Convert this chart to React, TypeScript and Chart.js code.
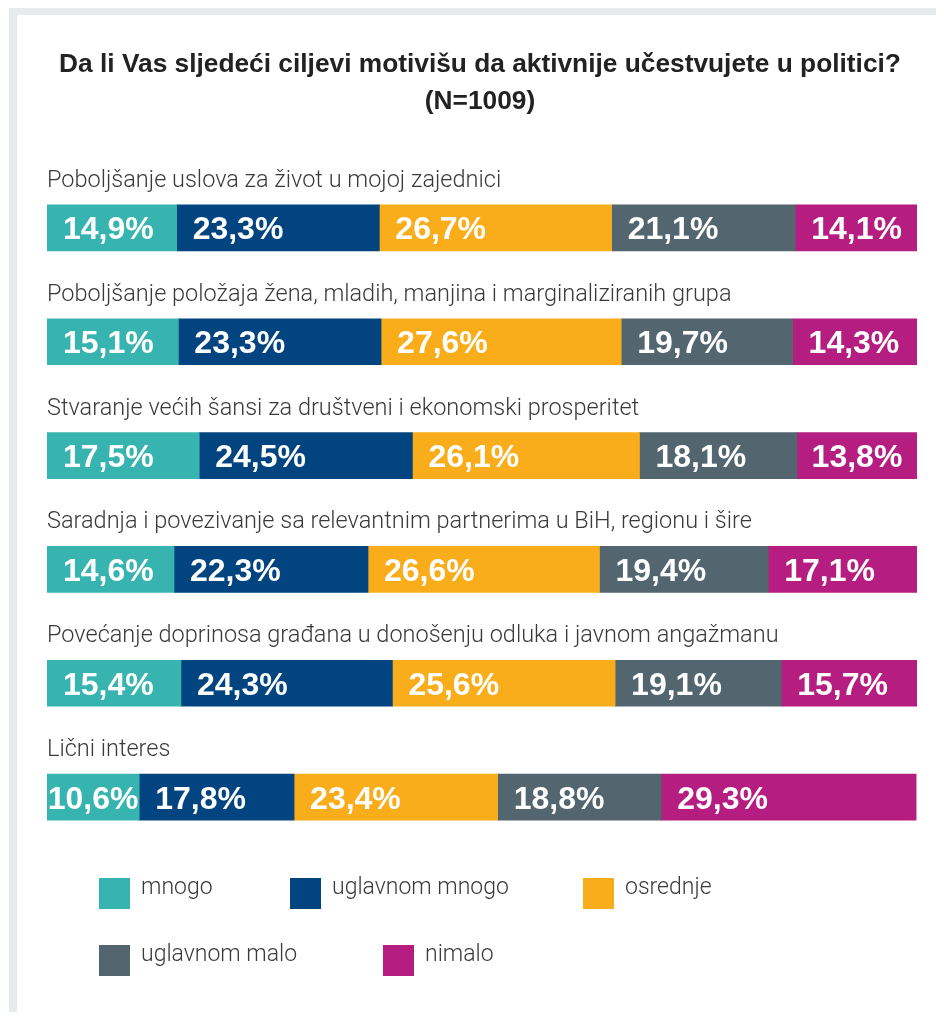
import React, { useEffect, useRef } from 'react';
import { Chart, registerables } from 'chart.js';

Chart.register(...registerables);

const categories = [
  'Poboljšanje uslova za život u mojoj zajednici',
  'Poboljšanje položaja žena, mladih, manjina i marginaliziranih grupa',
  'Stvaranje većih šansi za društveni i ekonomski prosperitet',
  'Saradnja i povezivanje sa relevantnim partnerima u BiH, regionu i šire',
  'Povećanje doprinosa građana u donošenju odluka i javnom angažmanu',
  'Lični interes',
];

const mnogo = [14.9, 15.1, 17.5, 14.6, 15.4, 10.6];
const uglavnomMnogo = [23.3, 23.3, 24.5, 22.3, 24.3, 17.8];
const osrednje = [26.7, 27.6, 26.1, 26.6, 25.6, 23.4];
const uglavnomMalo = [21.1, 19.7, 18.1, 19.4, 19.1, 18.8];
const nimalo = [14.1, 14.3, 13.8, 17.1, 15.7, 29.3];

const seriesNames = ['mnogo', 'uglavnom mnogo', 'osrednje', 'uglavnom malo', 'nimalo'];
const seriesValues = [mnogo, uglavnomMnogo, osrednje, uglavnomMalo, nimalo];
const seriesColors = ['#38b4b0', '#024480', '#f9ad1a', '#536670', '#b51e80'];

const titleLines = ['Da li Vas sljedeći ciljevi motivišu da aktivnije učestvujete u politici?', '(N=1009)'];

const W = 936;
const H = 1004;
const LIGHT_FAMILY = 'Roboto, "Liberation Sans", Arial, sans-serif';
const BOLD_FAMILY = '"Liberation Sans", Arial, sans-serif';

const fmt = (v: number) => v.toFixed(1).replace('.', ',') + '%';

const labelPlugin = {
  id: 'customLabels',
  afterDatasetsDraw(chart: any) {
    const ctx = chart.ctx;
    const yScale = chart.scales.y;
    ctx.save();
    // category labels above each bar
    ctx.font = `300 23.5px ${LIGHT_FAMILY}`;
    ctx.fillStyle = '#3a3a3a';
    ctx.textAlign = 'left';
    ctx.textBaseline = 'alphabetic';
    categories.forEach((c, i) => {
      const py = yScale.getPixelForValue(i);
      ctx.fillText(c, chart.chartArea.left, py - 41);
    });
    // value labels
    ctx.font = `bold 32px ${BOLD_FAMILY}`;
    ctx.fillStyle = '#ffffff';
    chart.data.datasets.forEach((ds: any, di: number) => {
      const meta = chart.getDatasetMeta(di);
      meta.data.forEach((bar: any, i: number) => {
        const p = bar.getProps(['x', 'base', 'y'], true);
        const left = Math.min(p.x, p.base);
        const w = Math.abs(p.x - p.base);
        const txt = fmt(ds.data[i]);
        const tw = ctx.measureText(txt).width;
        const pad = Math.min(16, Math.max(0, (w - tw) / 2));
        ctx.fillText(txt, left + pad, p.y + 11.5);
      });
    });
    ctx.restore();
  },
};

const legendPos = [
  { x: 91, y: 870 },
  { x: 282, y: 870 },
  { x: 575, y: 870 },
  { x: 91, y: 937 },
  { x: 375, y: 937 },
];

export default function App() {
  const canvasRef = useRef<HTMLCanvasElement | null>(null);

  useEffect(() => {
    if (!canvasRef.current) return;
    const chart = new Chart(canvasRef.current, {
      type: 'bar',
      data: {
        labels: categories,
        datasets: seriesValues.map((vals, i) => ({
          label: seriesNames[i],
          data: vals,
          backgroundColor: seriesColors[i],
          borderWidth: 0,
          barThickness: 46,
        })),
      },
      options: {
        indexAxis: 'y',
        responsive: false,
        animation: false,
        layout: { padding: { left: 39, right: W - 909, top: 163, bottom: H - 846 } },
        scales: {
          x: { stacked: true, min: 0, max: 100, display: false },
          y: { stacked: true, display: false },
        },
        plugins: {
          legend: { display: false },
          tooltip: { enabled: false },
          title: { display: false },
        },
      },
      plugins: [labelPlugin],
    });
    return () => chart.destroy();
  }, []);

  return (
    <div style={{ position: 'relative', width: W, height: H, overflow: 'hidden', background: '#fff' }}>
      <div
        style={{
          position: 'absolute',
          left: 1,
          top: 0,
          width: 1200,
          height: 1200,
          borderTop: '7px solid #e8ebee',
          borderLeft: '8px solid #e8ebee',
          boxSizing: 'border-box',
        }}
      />
      <canvas ref={canvasRef} width={W} height={H} style={{ position: 'absolute', left: 0, top: 0 }} />
      <div
        style={{
          position: 'absolute',
          left: 0,
          top: 37,
          width: 944,
          textAlign: 'center',
          font: `bold 26.3px ${BOLD_FAMILY}`,
          lineHeight: '37px',
          color: '#222',
        }}
      >
        {titleLines.map((t) => (
          <div key={t}>{t}</div>
        ))}
      </div>
      {seriesNames.map((name, i) => (
        <div key={name} style={{ position: 'absolute', left: legendPos[i].x, top: legendPos[i].y }}>
          <div style={{ position: 'absolute', left: 0, top: 0, width: 31, height: 31, background: seriesColors[i] }} />
          <div
            style={{
              position: 'absolute',
              left: 42,
              top: -5,
              whiteSpace: 'nowrap',
              font: `300 23px ${LIGHT_FAMILY}`,
              lineHeight: '28px',
              color: '#3a3a3a',
            }}
          >
            {name}
          </div>
        </div>
      ))}
    </div>
  );
}
